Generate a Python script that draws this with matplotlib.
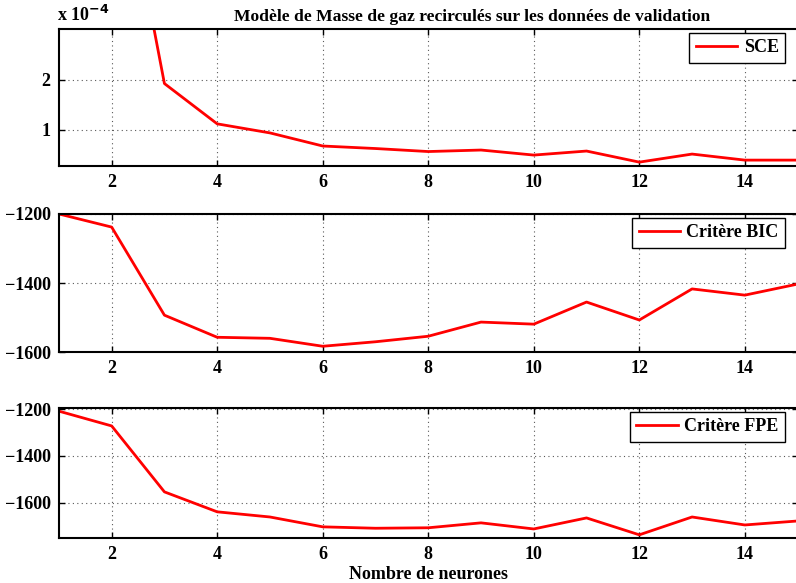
import matplotlib
matplotlib.use("Agg")
import matplotlib.pyplot as plt
import numpy as np

# nombre de neurones
neurones = list(range(1, 16))

# erreur quadratique (SCE) sur validation
sce = [1.5e-3, 7.4e-4, 1.92e-4, 1.12e-4, 0.94e-4, 0.68e-4, 0.63e-4, 0.57e-4,
       0.60e-4, 0.50e-4, 0.58e-4, 0.36e-4, 0.52e-4, 0.40e-4, 0.40e-4]

bic = [-1200, -1238, -1493, -1557, -1560, -1583, -1570, -1554,
       -1513, -1519, -1455, -1507, -1417, -1435, -1403]

fpe = [-1209, -1272, -1553, -1638, -1660, -1702, -1708, -1706,
       -1685, -1711, -1664, -1736, -1660, -1694, -1677]

xticks = [2, 4, 6, 8, 10, 12, 14]

plt.rcParams["font.family"] = ["Liberation Serif", "DejaVu Serif"]
plt.rcParams["font.weight"] = "bold"
plt.rcParams["font.size"] = 13

fig = plt.figure(figsize=(7.96, 5.83), dpi=100)
left, width = 0.074, 0.928
ax1 = fig.add_axes([left, 0.715, width, 0.235])
ax2 = fig.add_axes([left, 0.396, width, 0.237])
ax3 = fig.add_axes([left, 0.077, width, 0.223])


def style(ax, ylim, yticks, legend_top):
    ax.set_xlim(1, 15)
    ax.set_ylim(*ylim)
    ax.set_xticks(xticks)
    ax.set_yticks(yticks)
    ax.tick_params(direction="in", top=True, right=True, length=4, width=1, pad=6)
    ax.grid(True, linestyle=(0, (1, 3)), color="0.35", linewidth=0.8)
    for sp in ax.spines.values():
        sp.set_linewidth(1.5)
    leg = ax.legend(loc="upper right", fancybox=False, edgecolor="black",
                    framealpha=1, borderaxespad=0, borderpad=0.35,
                    handlelength=2.3, handletextpad=0.35,
                    bbox_to_anchor=(0.983, legend_top),
                    prop={"weight": "bold", "size": 13})
    leg.get_frame().set_linewidth(1.0)


ax1.plot(neurones, np.array(sce) / 1e-4, color="red", lw=2, label="SCE")
style(ax1, (0.28, 3.0), [1, 2], 0.971)
ax1.set_yticklabels(["1", "2"])
ax1.text(-0.002, 1.03, r"x 10$^{-4}$", transform=ax1.transAxes,
         ha="left", va="bottom", fontsize=13, fontweight="bold")
ax1.text(0.559, 1.03, "Modèle de Masse de gaz recirculés sur les données de validation",
         transform=ax1.transAxes, ha="center", va="bottom",
         fontsize=12.6, fontweight="bold")

ax2.plot(neurones, bic, color="red", lw=2, label="Critère BIC")
style(ax2, (-1600, -1200), [-1600, -1400, -1200], 0.971)

ax3.plot(neurones, fpe, color="red", lw=2, label="Critère FPE")
style(ax3, (-1750, -1196), [-1600, -1400, -1200], 0.969)
ax3.set_xlabel("Nombre de neurones", fontsize=13, fontweight="bold", labelpad=2)

fig.savefig("out.png", dpi=100)
